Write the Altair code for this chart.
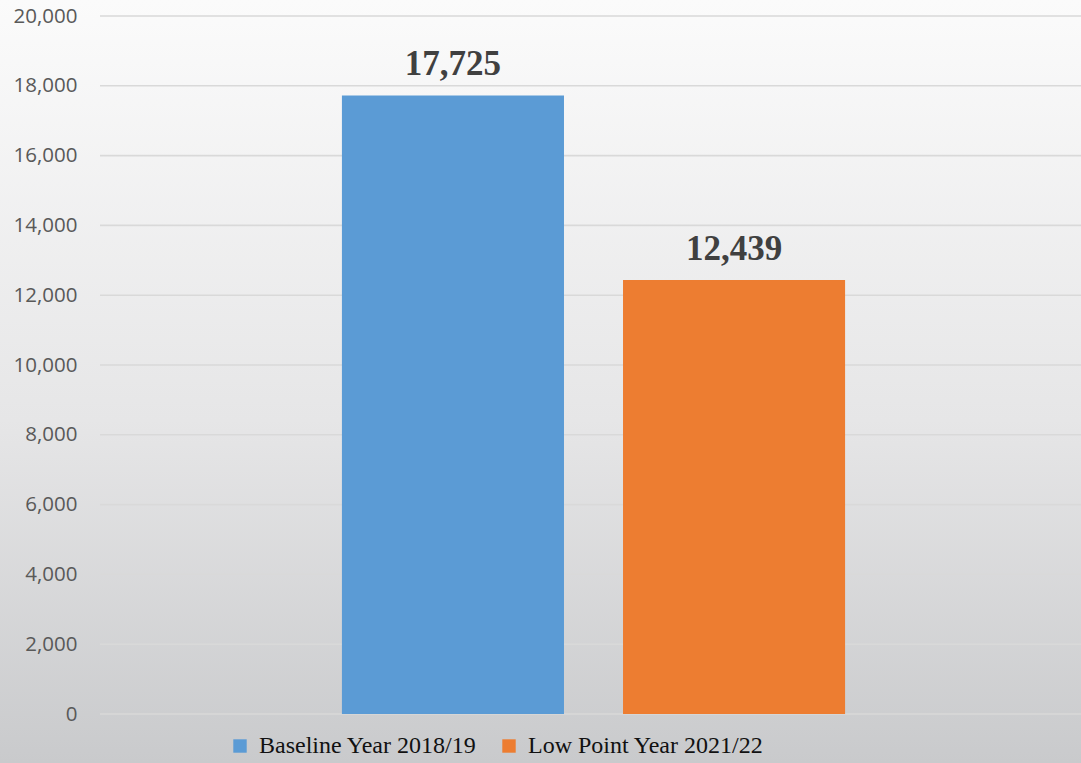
import altair as alt
import pandas as pd

series = ["Baseline Year 2018/19", "Low Point Year 2021/22"]
values = [17725, 12439]
colors = ["#5B9BD5", "#ED7D31"]
y_ticks = [0, 2000, 4000, 6000, 8000, 10000, 12000, 14000, 16000, 18000, 20000]

W, H = 981, 698
PAD = {"left": 100, "top": 16, "right": 0, "bottom": 49}

df = pd.DataFrame({"series": series, "value": values})
grid_df = pd.DataFrame({"tick": y_ticks})
bg_df = pd.DataFrame({"k": [0]})

yscale = alt.Scale(domain=[0, 20000], nice=False)
xscale = alt.Scale(domain=series, range=[3, 984], paddingInner=0.21, paddingOuter=0.85)
cscale = alt.Scale(domain=series, range=colors)

background = alt.Chart(bg_df).mark_rect(
    fill=alt.Gradient(
        gradient="linear",
        stops=[alt.GradientStop(color="#fbfbfb", offset=0),
               alt.GradientStop(color="#e6e6e7", offset=0.55),
               alt.GradientStop(color="#c9cacc", offset=1)],
        x1=0, x2=0, y1=0, y2=1,
    )
).encode(
    x=alt.value(-PAD["left"]), x2=alt.value(W + PAD["right"]),
    y=alt.value(-PAD["top"]), y2=alt.value(H + PAD["bottom"]),
)

grid = alt.Chart(grid_df).mark_rule(color="#d9d9d9", strokeWidth=1.6).encode(
    y=alt.Y("tick:Q", scale=yscale,
            axis=alt.Axis(values=y_ticks, format=",.0f", grid=False, domain=False, ticks=False,
                          labelFont="Open Sans", labelFontSize=20.5, labelColor="#595959",
                          labelPadding=23, title=None, zindex=2)),
    x=alt.value(0), x2=alt.value(W),
)

bars = alt.Chart(df).mark_bar().encode(
    x=alt.X("series:N", scale=xscale, axis=None, sort=series),
    y=alt.Y("value:Q", scale=yscale),
    color=alt.Color("series:N", scale=cscale, sort=series,
                    legend=alt.Legend(title=None, orient="none", direction="horizontal",
                                      legendX=128, legendY=718,
                                      symbolType="square", symbolSize=180,
                                      symbolStrokeWidth=0, symbolOpacity=1,
                                      labelFont="Liberation Serif", labelFontSize=24,
                                      labelColor="#111111", labelLimit=400,
                                      columnPadding=20, labelOffset=7, zindex=2)),
)

labels = alt.Chart(df).mark_text(
    font="Liberation Serif", fontWeight="bold", fontSize=35, color="#404040",
    baseline="alphabetic", dy=-20,
).encode(
    x=alt.X("series:N", scale=xscale, sort=series),
    y=alt.Y("value:Q", scale=yscale),
    text=alt.Text("value:Q", format=","),
)

chart = alt.layer(background, grid, bars, labels).properties(
    width=W, height=H,
    padding=PAD,
    autosize=alt.AutoSizeParams(type="none"),
    background="#ffffff",
).configure_view(stroke=None)

chart.save("out.html", embed_options={"renderer": "svg", "actions": False})
